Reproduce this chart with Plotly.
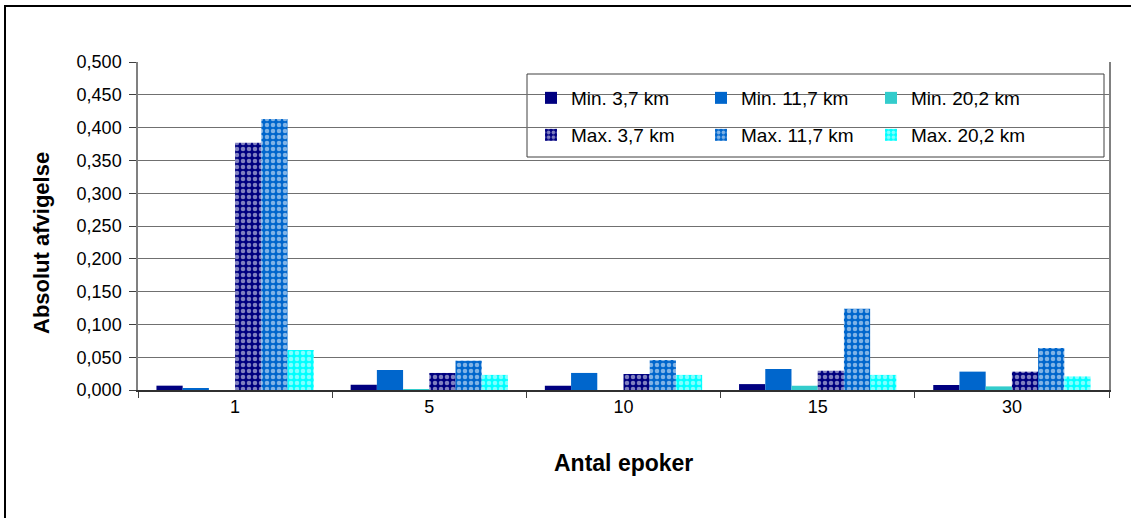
import plotly.graph_objects as go

categories = ["1", "5", "10", "15", "30"]
min_37 = [0.0066, 0.0080, 0.0065, 0.0090, 0.0076]
min_117 = [0.0030, 0.0305, 0.0260, 0.0320, 0.0280]
min_202 = [0.0000, 0.0010, 0.0000, 0.0065, 0.0055]
max_37 = [0.377, 0.026, 0.0244, 0.0294, 0.028]
max_117 = [0.413, 0.0447, 0.0457, 0.124, 0.064]
max_202 = [0.061, 0.023, 0.023, 0.023, 0.0207]

names = ["Min. 3,7 km", "Min. 11,7 km", "Min. 20,2 km",
         "Max. 3,7 km", "Max. 11,7 km", "Max. 20,2 km"]
series = [min_37, min_117, min_202, max_37, max_117, max_202]
colors = ["#000080", "#0066CC", "#33CCCC", "#000080", "#0066CC", "#00FFFF"]

fig = go.Figure()
for i, (nm, vals, col) in enumerate(zip(names, series, colors)):
    if i < 3:
        marker = dict(color=col, line=dict(width=0))
        leg = "legend"
    else:
        marker = dict(color=col, line=dict(width=0),
                      pattern=dict(shape=".", fgcolor="white", bgcolor=col,
                                   size=6, solidity=0.45, fillmode="overlay"))
        leg = "legend2"
    fig.add_trace(go.Bar(x=categories, y=vals, name=nm, marker=marker, legend=leg))

W, H = 1131, 518
L, R, T, B = 138, 1109, 62, 390
pw, ph = R - L, B - T

def px(x):
    return (x - L) / pw

def py(y):
    return (B - y) / ph

FONT = "Arial, Liberation Sans, sans-serif"
legend_common = dict(
    orientation="h", xanchor="left", yanchor="top",
    bgcolor="rgba(0,0,0,0)", borderwidth=0,
    entrywidth=125, entrywidthmode="pixels",
    font=dict(size=19, family=FONT, color="black"), traceorder="normal",
    itemwidth=30,
)

fig.update_layout(
    width=W, height=H,
    margin=dict(l=L, r=W - R, t=T, b=H - B),
    paper_bgcolor="white", plot_bgcolor="white",
    separators=",.",
    barmode="group", bargap=0.19, bargroupgap=0,
    font=dict(family=FONT, size=18, color="black"),
    showlegend=True,
    legend=dict(x=px(531), y=py(79), **legend_common),
    legend2=dict(x=px(531), y=py(116), **legend_common),
    xaxis=dict(
        type="category", tickson="boundaries", ticks="outside", ticklen=6,
        tickcolor="#404040", showline=True, linecolor="#303030", linewidth=1.5,
        mirror=False, showgrid=False,
        tickfont=dict(size=18),
    ),
    yaxis=dict(
        range=[0, 0.5], dtick=0.05, tickformat=".3f", ticks="outside", ticklen=7,
        ticklabelstandoff=4,
        tickcolor="#404040", showline=True, linecolor="#808080", linewidth=1.5,
        mirror=True, showgrid=True, gridcolor="#707070", gridwidth=1,
        tickfont=dict(size=18), zeroline=False,
    ),
    annotations=[
        dict(text="<b>Antal epoker</b>", xref="paper", yref="paper",
             x=px(623), y=py(463), xanchor="center", yanchor="middle",
             showarrow=False, font=dict(size=23, family=FONT, color="black")),
        dict(text="<b>Absolut afvigelse</b>", xref="paper", yref="paper",
             x=px(42), y=py(243), xanchor="center", yanchor="middle",
             textangle=-90, showarrow=False,
             font=dict(size=22, family=FONT, color="black")),
    ],
    shapes=[
        dict(type="rect", xref="paper", yref="paper",
             x0=px(527), x1=px(1104), y0=py(157), y1=py(74),
             line=dict(color="#404040", width=1), fillcolor="white", layer="below"),
        dict(type="rect", xref="paper", yref="paper",
             x0=px(5), x1=px(1145), y0=py(6), y1=py(535),
             line=dict(color="black", width=2), layer="above"),
    ],
)

fig.write_html("out.html")
